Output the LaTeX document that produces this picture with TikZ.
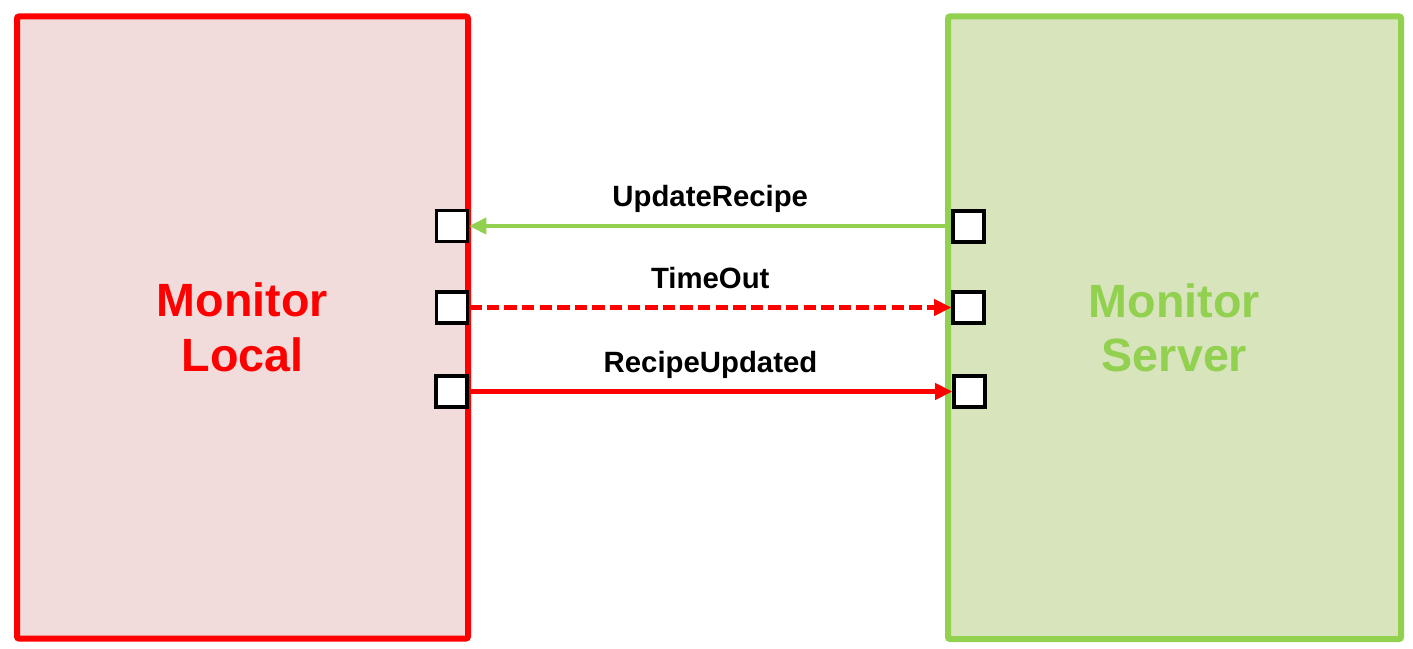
\documentclass[tikz,border=0pt]{standalone}
\usepackage{fontspec}
\setmainfont{Liberation Sans}
\usetikzlibrary{arrows.meta}

\definecolor{localred}{HTML}{FF0000}
\definecolor{localfill}{HTML}{F2DCDB}
\definecolor{servergreen}{HTML}{92D050}
\definecolor{serverfill}{HTML}{D8E4BC}

\tikzset{
  module/.style={draw, line width=4.5pt, rounded corners=1.5pt, inner sep=0pt, align=center,
    font=\bfseries\fontsize{35}{41}\selectfont},
  port/.style={draw=black, fill=white, line width=2.4pt, minimum size=23.25pt, inner sep=0pt},
  signal/.style={line width=3.4pt, -{Triangle[length=13pt,width=12pt]}},
  msg/.style={midway, anchor=base, yshift=14.5pt, inner sep=0pt, text=black,
    font=\bfseries\fontsize{22}{26}\selectfont}
}

\begin{document}
\begin{tikzpicture}[x=0.75pt,y=0.75pt,yscale=-1,xscale=1]
	\useasboundingbox (0,0) rectangle (1413,649);

	%Shape: Rectangle [id:local]
	\node [module, draw=localred, fill=localfill, text=localred, minimum width=338.25pt, minimum height=466.5pt] (local) at (242.5,327.5) {Monitor\\Local};
	%Shape: Rectangle [id:server]
	\node [module, draw=servergreen, fill=serverfill, text=servergreen, minimum width=339.75pt, minimum height=466.9pt] (server) at (1174.5,327.75) {Monitor\\Server};

	%Shape: Ports
	\node [port] (lupdate) at (452,226) {};
	\node [port] (ltimeout) at (452,307.5) {};
	\node [port] (lupdated) at (451.5,391.5) {};
	\node [port] (supdate) at (968.5,226.5) {};
	\node [port] (stimeout) at (968.5,307.5) {};
	\node [port] (supdated) at (969.5,391.5) {};

	%Straight Lines [id:messages]
	\draw [signal, servergreen] (supdate.west |- lupdate) -- node [msg] {UpdateRecipe} (lupdate.east);
	\draw [signal, localred, dash pattern={on 9.4pt off 3.8pt}] (ltimeout.east) -- node [msg] {TimeOut} (stimeout.west);
	\draw [signal, localred] (lupdated.east) -- node [msg] {RecipeUpdated} (supdated.west);

\end{tikzpicture}
\end{document}
